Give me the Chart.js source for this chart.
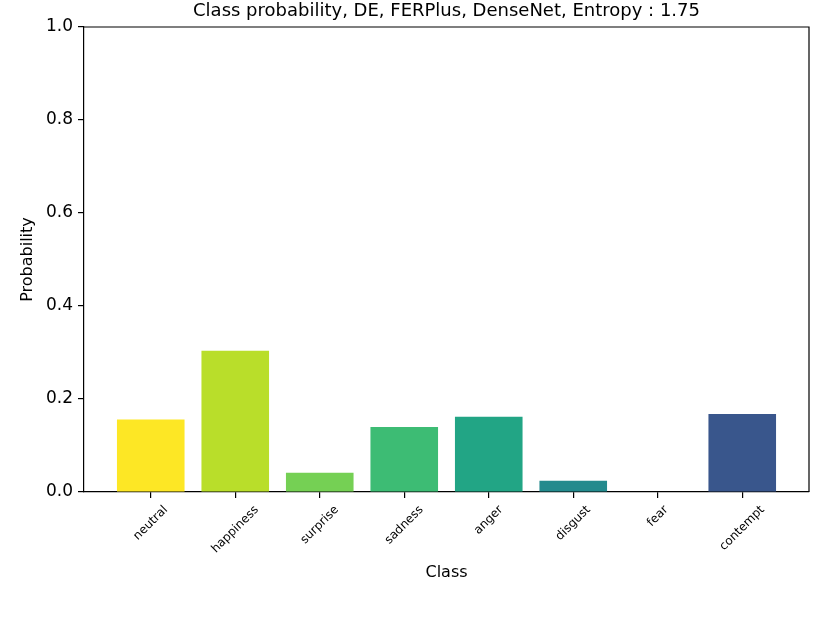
<!DOCTYPE html>
<html>
<head>
<meta charset="utf-8">
<script src="https://cdn.jsdelivr.net/npm/chart.js@4"></script>
<style>
  body { margin: 0; background: #fff; }
  #wrap { width: 830px; height: 623px; }
</style>
</head>
<body>
<div id="wrap"><canvas id="myChart"></canvas></div>
<script>
const classes = ['neutral', 'happiness', 'surprise', 'sadness', 'anger', 'disgust', 'fear', 'contempt'];
const probs = [0.156, 0.304, 0.0415, 0.140, 0.162, 0.0243, 0.0, 0.168];
const barColors = ['#fde725', '#b9de2a', '#75d054', '#3dbc74', '#22a585', '#238a8d', '#2c718e', '#39568c'];
const yTicks = [0, 0.2, 0.4, 0.6, 0.8, 1.0];
const titleText = 'Class probability, DE, FERPlus, DenseNet, Entropy : 1.75';

const FONT = '"DejaVu Sans", sans-serif';

// top and right spines like matplotlib, plus the title centred on the axes
const frame = {
  id: 'frame',
  afterDraw(chart) {
    const { ctx, chartArea: a } = chart;
    ctx.save();
    ctx.strokeStyle = '#000';
    ctx.lineWidth = 1.2;
    ctx.beginPath();
    ctx.moveTo(a.left, a.top);
    ctx.lineTo(a.right, a.top);
    ctx.lineTo(a.right, a.bottom);
    ctx.stroke();

    ctx.font = '18px ' + FONT;
    ctx.fillStyle = '#000';
    ctx.textAlign = 'center';
    ctx.textBaseline = 'middle';
    ctx.fillText(titleText, (a.left + a.right) / 2, 11.5);
    ctx.restore();
  }
};

// rotated class names, centred under each tick (matplotlib style)
const xLabels = {
  id: 'xLabels',
  afterDraw(chart) {
    const { ctx, scales: { x }, chartArea: a } = chart;
    ctx.save();
    ctx.font = '12px ' + FONT;
    ctx.fillStyle = '#000';
    ctx.textAlign = 'center';
    ctx.textBaseline = 'middle';
    classes.forEach((c, i) => {
      const px = x.getPixelForValue(i);
      const w = ctx.measureText(c).width;
      const h = 12 * 1.15;
      const bh = (w + h) / Math.SQRT2;
      ctx.save();
      ctx.translate(px, a.bottom + 11 + bh / 2);
      ctx.rotate(-Math.PI / 4);
      ctx.fillText(c, 0, 0);
      ctx.restore();
    });
    ctx.restore();
  }
};

const ctx = document.getElementById('myChart');

new Chart(ctx, {
  type: 'bar',
  data: {
    datasets: [{
      label: 'Probability',
      data: classes.map((c, i) => ({ x: i, y: probs[i] })),
      backgroundColor: barColors,
      borderWidth: 0,
      barPercentage: 0.8,
      categoryPercentage: 1.0
    }]
  },
  options: {
    responsive: true,
    maintainAspectRatio: false,
    animation: false,
    layout: { padding: { left: 0, right: 21, top: 27, bottom: 0 } },
    plugins: {
      legend: { display: false },
      tooltip: { enabled: false },
      title: { display: false }
    },
    scales: {
      x: {
        type: 'linear',
        min: -0.79,
        max: 7.79,
        offset: false,
        afterBuildTicks: (s) => { s.ticks = classes.map((c, i) => ({ value: i })); },
        afterFit: (s) => { s.height = 131; },
        ticks: { display: false },
        grid: { display: true, offset: false, drawOnChartArea: false, drawTicks: true, tickLength: 6, color: '#000', lineWidth: 1.2 },
        border: { display: true, color: '#000', width: 1.2 },
        title: {
          display: true,
          text: 'Class',
          color: '#000',
          font: { family: FONT, size: 16 },
          padding: { top: 0, bottom: 41 }
        }
      },
      y: {
        min: 0,
        max: 1,
        afterBuildTicks: (s) => { s.ticks = yTicks.map(v => ({ value: v })); },
        afterFit: (s) => { s.width = 84; },
        ticks: {
          color: '#000',
          font: { family: FONT, size: 17 },
          padding: 5,
          callback: (v) => Number(v).toFixed(1)
        },
        grid: { display: true, drawOnChartArea: false, drawTicks: true, tickLength: 6, color: '#000', lineWidth: 1.2 },
        border: { display: true, color: '#000', width: 1.2 },
        title: {
          display: true,
          text: 'Probability',
          color: '#000',
          font: { family: FONT, size: 16 },
          padding: { top: 18, bottom: 0 }
        }
      }
    }
  },
  plugins: [frame, xLabels]
});
</script>
</body>
</html>
